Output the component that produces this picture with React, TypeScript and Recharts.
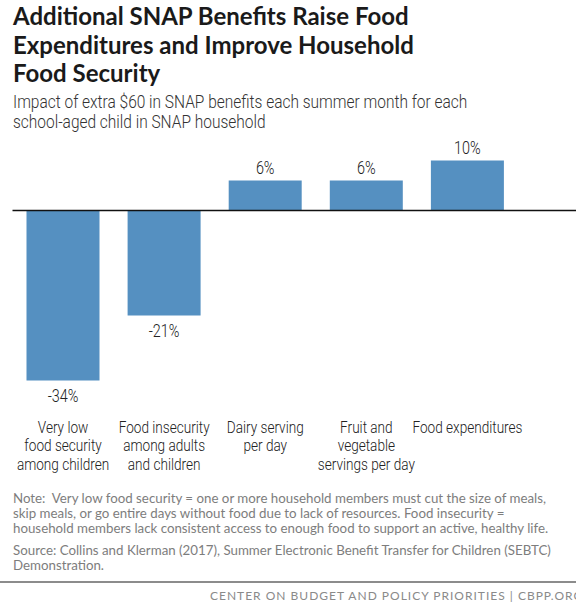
import { BarChart, Bar, XAxis, YAxis, ReferenceLine, LabelList } from "recharts";

const categories = [
  ["Very low", "food security", "among children"],
  ["Food insecurity", "among adults", "and children"],
  ["Dairy serving", "per day"],
  ["Fruit and", "vegetable", "servings per day"],
  ["Food expenditures"],
];
const impacts = [-34, -21, 6, 6, 10];

const data = categories.map((lines, i) => ({
  name: lines.join(" "),
  lines,
  value: impacts[i],
}));

const BAR = "#5590c1";
const COND = "Roboto";

const CategoryTick = (props: any) => {
  const { x, y, index } = props;
  const lines = data[index]?.lines ?? [];
  return (
    <g transform={`translate(${x},${y}) scale(0.85,1)`}>
      <text textAnchor="middle" fill="#222" fontFamily={COND} fontWeight={300} fontSize={16}>
        {lines.map((l: string, i: number) => (
          <tspan key={i} x={0} y={14 + i * 19}>
            {l}
          </tspan>
        ))}
      </text>
    </g>
  );
};

const ValueLabel = (props: any) => {
  const { x, y, width, height, value } = props;
  const top = Math.min(y, y + height);
  const bottom = Math.max(y, y + height);
  const ty = value >= 0 ? top - 13 : bottom + 15;
  return (
    <g transform={`translate(${x + width / 2},${ty}) scale(0.8,1)`}>
      <text textAnchor="middle" dominantBaseline="central" fill="#222" fontFamily={COND} fontWeight={300} fontSize={18}>
        {`${value}%`}
      </text>
    </g>
  );
};

export default function App() {
  return (
    <div style={{ position: "absolute", left: 0, top: 0, width: 576, height: 602, background: "#fff", overflow: "hidden" }}>
      <div
        style={{
          position: "absolute",
          left: 13,
          top: 2,
          fontFamily: "Lato",
          fontWeight: 700,
          fontSize: 24,
          lineHeight: "28.5px",
          color: "#1a1a1a",
          width: 560,
        }}
      >
        Additional SNAP Benefits Raise Food
        <br />
        Expenditures and Improve Household
        <br />
        Food Security
      </div>
      <div
        style={{
          position: "absolute",
          left: 13,
          top: 92,
          fontFamily: COND,
          fontWeight: 300,
          fontSize: 18,
          lineHeight: "20px",
          color: "#333",
          transform: "scaleX(0.86)",
          transformOrigin: "left top",
          whiteSpace: "nowrap",
        }}
      >
        Impact of extra $60 in SNAP benefits each summer month for each
        <br />
        school-aged child in SNAP household
      </div>

      <div style={{ position: "absolute", left: 0, top: 0 }}>
        <BarChart
          width={576}
          height={480}
          data={data}
          margin={{ top: 140.5, right: 0, left: 12.5, bottom: 0 }}
        >
          <XAxis
            dataKey="name"
            axisLine={false}
            tickLine={false}
            interval={0}
            height={69.5}
            padding={{ left: 0, right: 58 }}
            tick={<CategoryTick />}
          />
          <YAxis hide domain={[-40, 14]} allowDataOverflow />
          <Bar dataKey="value" fill={BAR} barSize={73} isAnimationActive={false}>
            <LabelList dataKey="value" content={<ValueLabel />} />
          </Bar>
          <ReferenceLine y={0} stroke="#111" strokeWidth={1.6} />
        </BarChart>
      </div>

      <div
        style={{
          position: "absolute",
          left: 13,
          top: 491,
          fontFamily: "Lato",
          fontSize: 13.3,
          lineHeight: "15px",
          color: "#7d7d7d",
          whiteSpace: "nowrap",
        }}
      >
        Note:&nbsp; Very low food security = one or more household members must cut the size of meals,
        <br />
        skip meals, or go entire days without food due to lack of resources. Food insecurity =
        <br />
        household members lack consistent access to enough food to support an active, healthy life.
        <div style={{ marginTop: 7 }}>
          Source: Collins and Klerman (2017), Summer Electronic Benefit Transfer for Children (SEBTC)
          <br />
          Demonstration.
        </div>
      </div>

      <div style={{ position: "absolute", left: 0, top: 581, width: 576, height: 2, background: "#8c8c8c" }} />
      <div
        style={{
          position: "absolute",
          left: 210,
          top: 588,
          fontFamily: "Lato",
          fontSize: 12,
          letterSpacing: 1.0,
          color: "#8a8a8a",
          whiteSpace: "nowrap",
        }}
      >
        CENTER ON BUDGET AND POLICY PRIORITIES | CBPP.ORG
      </div>
    </div>
  );
}
